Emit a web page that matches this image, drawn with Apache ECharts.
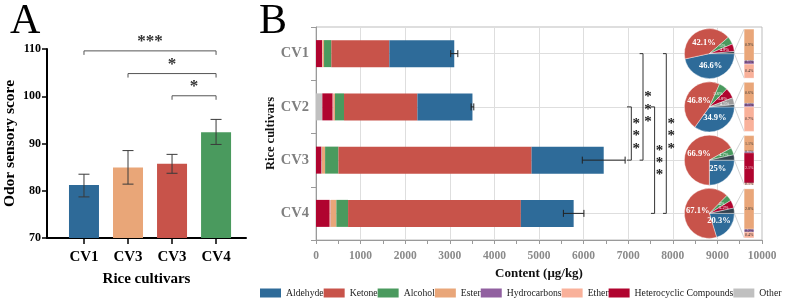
<!DOCTYPE html>
<html>
<head>
<meta charset="utf-8">
<script src="https://cdn.jsdelivr.net/npm/echarts@6/dist/echarts.min.js"></script>
<style>
html, body { margin: 0; padding: 0; background: #fff; }
#chart { width: 793px; height: 305px; }
</style>
</head>
<body>
<div id="chart"></div>
<script>
const serif = '"Liberation Serif", "Times New Roman", serif';

// ---- panel A: odor sensory score ----
const cultivarsA = ['CV1', 'CV3', 'CV3', 'CV4'];
const odorScore = [81.2, 84.9, 85.7, 92.4];
const odorLow = [78.7, 81.4, 83.7, 89.8];
const odorHigh = [83.5, 88.5, 87.7, 95.1];
// [from, to, y, stars]
const sigA = [[0, 3, 109.6, '***'], [1, 3, 104.8, '*'], [2, 3, 100.1, '*']];

// ---- panel B: volatile content (ug/kg) ----
const cultivarsB = ['CV1', 'CV2', 'CV3', 'CV4'];
const classNames = ['Aldehyde', 'Ketone', 'Alcohol', 'Ester', 'Hydrocarbons', 'Ether', 'Heterocyclic Compounds', 'Other'];
const aldehyde = [1455, 1234, 1617, 1184];
const ketone = [1301, 1646, 4331, 3874];
const alcohol = [164, 202, 299, 262];
const ester = [29, 22, 72, 125];
const hydrocarbons = [3, 4, 6, 5];
const ether = [13, 26, 6, 20];
const heterocyclic = [135, 232, 120, 307];
const other = [0, 142, 0, 0];
const totalErr = [80, 30, 480, 230];
// [line x, tick x, from cultivar, to cultivar]
const sigB = [[7070, 6973, 1, 2], [7332, 7256, 0, 2], [7592, 7511, 1, 3], [7854, 7780, 0, 3]];

// pie percentages
const pieAldehyde = [46.6, 34.9, 25, 20.3];
const pieKetone = [42.1, 46.8, 66.9, 67.1];
const pieAlcohol = [5.0, 5.6, 4.7, 4.0];
const pieHetero = [4.9, 6.8, 0, 5.2];
const pieOther = [0, 4.5, 0, 0];
// small classes pulled out into the side bar
const barEster = [0.9, 0.6, 1.1, 2.8];
const barHydro = [0.1, 0.1, 0.1, 0.2];
const barHetero = [0, 0, 2.1, 0];
const barEther = [0.4, 0.7, 0.1, 0.4];

const colors = {
  'Aldehyde': '#2e6b99',
  'Ketone': '#c8534a',
  'Alcohol': '#4a9a5e',
  'Ester': '#e9a679',
  'Hydrocarbons': '#9160a0',
  'Ether': '#f9b19a',
  'Heterocyclic Compounds': '#b0042f',
  'Other': '#c0c0c0'
};
const odorColors = ['#2e6a98', '#e9a678', '#c8534a', '#4a9a5e'];
const groupColor = '#34434f';

const gridA = { left: 47, top: 49, width: 199, height: 189 };
const gridB = { left: 316, top: 27, width: 446, height: 213 };
const pieX = 8820;
const pieR = 25;
const sideBarX = [9600, 9820];

const chart = echarts.init(document.getElementById('chart'));

// stacked bars: drawn from the left in reverse legend order
const stackData = {
  'Other': other, 'Heterocyclic Compounds': heterocyclic, 'Ether': ether,
  'Hydrocarbons': hydrocarbons, 'Ester': ester, 'Alcohol': alcohol,
  'Ketone': ketone, 'Aldehyde': aldehyde
};
const stackSeries = Object.keys(stackData).map(name => ({
  name: name,
  type: 'bar',
  xAxisIndex: 1,
  yAxisIndex: 1,
  stack: 'total',
  barWidth: 27,
  itemStyle: { color: colors[name] },
  data: stackData[name]
}));

const totals = cultivarsB.map((c, i) =>
  Object.keys(stackData).reduce((s, k) => s + stackData[k][i], 0));

// side bar segments for each pie
const sideParts = [
  ['Ester', barEster], ['Hydrocarbons', barHydro],
  ['Heterocyclic Compounds', barHetero], ['Ether', barEther]
];
const sideData = [];
const groupPct = [];
cultivarsB.forEach((c, i) => {
  const total = sideParts.reduce((s, p) => s + p[1][i], 0);
  groupPct.push(total);
  let acc = 0;
  sideParts.forEach(p => {
    const v = p[1][i];
    if (v > 0) {
      sideData.push([sideBarX[0], sideBarX[1], i, acc / total, (acc + v) / total, p[0], v]);
      acc += v;
    }
  });
});

// each pie is drawn twice: coloured slices with the small labels,
// then a transparent smaller copy that carries the big labels nearer the centre
const pieSeries = [];
cultivarsB.forEach((c, i) => {
  const rows = [
    ['Aldehyde', pieAldehyde[i]], ['Ketone', pieKetone[i]], ['Alcohol', pieAlcohol[i]],
    ['Heterocyclic Compounds', pieHetero[i]], ['Other', pieOther[i]]
  ].filter(d => d[1] > 0);
  rows.push(['group', groupPct[i]]);
  const center = [gridB.left + gridB.width * pieX / 10000, gridB.top + gridB.height * (i + 0.5) / 4];
  const base = {
    type: 'pie',
    silent: true,
    center: center,
    startAngle: 0,
    clockwise: true,
    labelLine: { show: false },
    labelLayout: { hideOverlap: false },
    label: {
      position: 'inside',
      formatter: p => p.value + '%',
      color: '#fff',
      fontFamily: serif,
      fontWeight: 'bold',
      overflow: 'none'
    }
  };
  pieSeries.push(Object.assign({}, base, {
    radius: pieR,
    itemStyle: { borderColor: '#fff', borderWidth: 0.4 },
    z: 5,
    data: rows.map(d => ({
      name: d[0],
      value: d[1],
      itemStyle: { color: d[0] === 'group' ? groupColor : d[0] === 'Other' ? '#9a9a9a' : colors[d[0]] },
      label: { show: d[0] !== 'group' && d[1] < 15, fontSize: 4.5, fontWeight: 'normal' }
    }))
  }));
  pieSeries.push(Object.assign({}, base, {
    radius: 18,
    itemStyle: { color: 'transparent', borderWidth: 0 },
    z: 6,
    data: rows.map(d => ({
      name: d[0],
      value: d[1],
      label: { show: d[1] >= 15, fontSize: 8.5 }
    }))
  }));
});

const option = {
  animation: false,
  backgroundColor: '#fff',
  title: [
    { text: 'A', left: 5, top: -4, textStyle: { fontFamily: serif, fontSize: 42, fontWeight: 'normal', color: '#000' } },
    { text: 'B', left: 254, top: -4, textStyle: { fontFamily: serif, fontSize: 42, fontWeight: 'normal', color: '#000' } }
  ],
  legend: {
    data: classNames,
    left: 260,
    top: 288,
    padding: 0,
    icon: 'rect',
    itemWidth: 21,
    itemHeight: 9,
    itemGap: 0,
    selectedMode: false,
    textStyle: { fontFamily: serif, fontSize: 9.7, color: '#222' }
  },
  grid: [
    Object.assign({}, gridA),
    Object.assign({ show: true, borderColor: '#bdbdbd', borderWidth: 1 }, gridB)
  ],
  xAxis: [
    {
      gridIndex: 0,
      type: 'value',
      min: -0.84,
      max: 3.68,
      splitLine: { show: false },
      axisLine: { show: true, onZero: false, lineStyle: { color: '#000', width: 2 } },
      axisTick: { show: true, customValues: [0, 1, 2, 3], length: 6, lineStyle: { color: '#000', width: 1.5 } },
      axisLabel: {
        customValues: [0, 1, 2, 3],
        formatter: v => cultivarsA[v],
        fontFamily: serif, fontWeight: 'bold', fontSize: 15, color: '#000', margin: 12
      },
      name: 'Rice cultivars',
      nameLocation: 'middle',
      nameGap: 34,
      nameMoveOverlap: false,
      nameTextStyle: { fontFamily: serif, fontWeight: 'bold', fontSize: 15, color: '#000' }
    },
    {
      gridIndex: 1,
      type: 'value',
      min: 0,
      max: 10000,
      interval: 1000,
      axisLine: { show: true, onZero: false, lineStyle: { color: '#9a9a9a' } },
      axisTick: { show: true, length: 4, lineStyle: { color: '#9a9a9a' } },
      minorTick: { show: true, splitNumber: 2, length: 4, lineStyle: { color: '#9a9a9a' } },
      splitLine: { show: true, lineStyle: { color: '#dedede' } },
      axisLabel: { formatter: v => String(v), fontFamily: serif, fontWeight: 'bold', fontSize: 11.5, color: '#8a8a8a', margin: 10 },
      name: 'Content (μg/kg)',
      nameLocation: 'middle',
      nameGap: 27,
      nameMoveOverlap: false,
      nameTextStyle: { fontFamily: serif, fontWeight: 'bold', fontSize: 13, color: '#111' }
    }
  ],
  yAxis: [
    {
      gridIndex: 0,
      type: 'value',
      min: 70,
      max: 110,
      interval: 10,
      splitLine: { show: false },
      axisLine: { show: true, onZero: false, lineStyle: { color: '#000', width: 2 } },
      axisTick: { show: true, length: 5, lineStyle: { color: '#000', width: 1.5 } },
      axisLabel: { fontFamily: serif, fontWeight: 'bold', fontSize: 12, color: '#000', margin: 6 },
      name: 'Odor sensory score',
      nameLocation: 'middle',
      nameGap: 29,
      nameMoveOverlap: false,
      nameTextStyle: { fontFamily: serif, fontWeight: 'bold', fontSize: 15.5, color: '#000' }
    },
    {
      gridIndex: 1,
      type: 'category',
      inverse: true,
      data: cultivarsB,
      axisLine: { show: true, onZero: false, lineStyle: { color: '#9a9a9a' } },
      axisTick: { show: true, length: 5, lineStyle: { color: '#9a9a9a' } },
      splitLine: { show: true, alignWithLabel: true, lineStyle: { color: '#dedede' } },
      axisLabel: { fontFamily: serif, fontWeight: 'bold', fontSize: 14.5, color: '#7f7f7f', margin: 7 },
      name: 'Rice cultivars',
      nameLocation: 'middle',
      nameGap: 39,
      nameMoveOverlap: false,
      nameTextStyle: { fontFamily: serif, fontWeight: 'bold', fontSize: 12.5, color: '#111' }
    }
  ],
  series: [
    {
      type: 'bar',
      xAxisIndex: 0,
      yAxisIndex: 0,
      barWidth: 30,
      data: odorScore.map((v, i) => ({ value: [i, v], itemStyle: { color: odorColors[i] } }))
    },
    {
      type: 'custom',
      xAxisIndex: 0,
      yAxisIndex: 0,
      silent: true,
      data: odorScore.map((v, i) => [i, odorLow[i], odorHigh[i]]),
      encode: { x: 0, y: [1, 2] },
      renderItem: (params, api) => {
        const lo = api.coord([api.value(0), api.value(1)]);
        const hi = api.coord([api.value(0), api.value(2)]);
        const st = { stroke: '#3a3a3a', lineWidth: 1 };
        return {
          type: 'group',
          children: [
            { type: 'line', shape: { x1: lo[0], y1: lo[1], x2: hi[0], y2: hi[1] }, style: st },
            { type: 'line', shape: { x1: lo[0] - 5.5, y1: lo[1], x2: lo[0] + 5.5, y2: lo[1] }, style: st },
            { type: 'line', shape: { x1: hi[0] - 5.5, y1: hi[1], x2: hi[0] + 5.5, y2: hi[1] }, style: st }
          ]
        };
      },
      z: 3
    },
    {
      type: 'custom',
      xAxisIndex: 0,
      yAxisIndex: 0,
      silent: true,
      data: sigA,
      encode: { x: [0, 1], y: 2 },
      renderItem: (params, api) => {
        const a = api.coord([api.value(0), api.value(2)]);
        const b = api.coord([api.value(1), api.value(2)]);
        const st = { stroke: '#555', lineWidth: 1 };
        return {
          type: 'group',
          children: [
            { type: 'polyline', shape: { points: [[a[0], a[1] + 4], [a[0], a[1]], [b[0], b[1]], [b[0], b[1] + 4]] }, style: Object.assign({ fill: null }, st) },
            {
              type: 'text',
              style: {
                x: (a[0] + b[0]) / 2, y: a[1] - 9,
                text: sigA[params.dataIndex][3],
                align: 'center', verticalAlign: 'middle',
                font: 'bold 17px ' + serif, fill: '#333'
              }
            }
          ]
        };
      }
    },
    ...stackSeries,
    {
      type: 'custom',
      xAxisIndex: 1,
      yAxisIndex: 1,
      silent: true,
      data: totals.map((t, i) => [t - totalErr[i], t + totalErr[i], i]),
      encode: { x: [0, 1], y: 2 },
      renderItem: (params, api) => {
        const lo = api.coord([api.value(0), api.value(2)]);
        const hi = api.coord([api.value(1), api.value(2)]);
        const st = { stroke: '#222', lineWidth: 1 };
        return {
          type: 'group',
          children: [
            { type: 'line', shape: { x1: lo[0], y1: lo[1], x2: hi[0], y2: hi[1] }, style: st },
            { type: 'line', shape: { x1: lo[0], y1: lo[1] - 3.5, x2: lo[0], y2: lo[1] + 3.5 }, style: st },
            { type: 'line', shape: { x1: hi[0], y1: hi[1] - 3.5, x2: hi[0], y2: hi[1] + 3.5 }, style: st }
          ]
        };
      },
      z: 3
    },
    {
      type: 'custom',
      xAxisIndex: 1,
      yAxisIndex: 1,
      silent: true,
      data: sigB,
      encode: { x: [0, 1], y: [2, 3] },
      renderItem: (params, api) => {
        const a = api.coord([api.value(0), api.value(2)]);
        const b = api.coord([api.value(0), api.value(3)]);
        const ta = api.coord([api.value(1), api.value(2)]);
        const st = { stroke: '#333', lineWidth: 1, fill: null };
        const mid = (a[1] + b[1]) / 2;
        const stars = [-12.3, 0, 12.3].map(dy => ({
          type: 'text',
          style: {
            x: a[0] + 5, y: mid + dy + 3,
            text: '*', align: 'center', verticalAlign: 'middle',
            font: 'bold 15px ' + serif, fill: '#222'
          }
        }));
        return {
          type: 'group',
          children: [
            { type: 'polyline', shape: { points: [[ta[0], a[1]], [a[0], a[1]], [b[0], b[1]], [ta[0], b[1]]] }, style: st }
          ].concat(stars)
        };
      },
      z: 4
    },
    {
      type: 'custom',
      xAxisIndex: 1,
      yAxisIndex: 1,
      silent: true,
      data: sideData,
      encode: { x: [0, 1], y: 2 },
      renderItem: (params, api) => {
        const row = sideData[params.dataIndex];
        const l = api.coord([row[0], row[2]]);
        const r = api.coord([row[1], row[2]]);
        const band = api.size([0, 1])[1];
        const top = l[1] - band * 0.46;
        const h = band * 0.92;
        const y0 = top + h * row[3];
        const y1 = top + h * row[4];
        return {
          type: 'group',
          children: [
            { type: 'rect', shape: { x: l[0], y: y0, width: r[0] - l[0], height: y1 - y0 }, style: { fill: colors[row[5]], stroke: '#fff', lineWidth: 0.3 } },
            {
              type: 'text',
              style: {
                x: (l[0] + r[0]) / 2, y: (y0 + y1) / 2, text: row[6] + '%',
                align: 'center', verticalAlign: 'middle',
                font: '4px ' + serif, fill: row[5] === 'Heterocyclic Compounds' ? '#f2d0d0' : '#333'
              }
            }
          ]
        };
      },
      z: 5
    },
    {
      type: 'custom',
      xAxisIndex: 1,
      yAxisIndex: 1,
      silent: true,
      data: groupPct.map((g, i) => [pieX, i, g]),
      encode: { x: 0, y: 1 },
      renderItem: (params, api) => {
        const c = api.coord([pieX, api.value(1)]);
        const bx = api.coord([sideBarX[0], api.value(1)])[0];
        const band = api.size([0, 1])[1];
        const th = 2 * Math.PI * (1 - api.value(2) / 100);
        const st = { stroke: '#c8c8c8', lineWidth: 0.8 };
        return {
          type: 'group',
          children: [
            { type: 'line', shape: { x1: c[0] + pieR * Math.cos(th), y1: c[1] + pieR * Math.sin(th), x2: bx, y2: c[1] - band * 0.46 }, style: st },
            { type: 'line', shape: { x1: c[0] + pieR, y1: c[1], x2: bx, y2: c[1] + band * 0.46 }, style: st }
          ]
        };
      },
      z: 4
    },
    ...pieSeries
  ]
};

chart.setOption(option);
</script>
</body>
</html>
